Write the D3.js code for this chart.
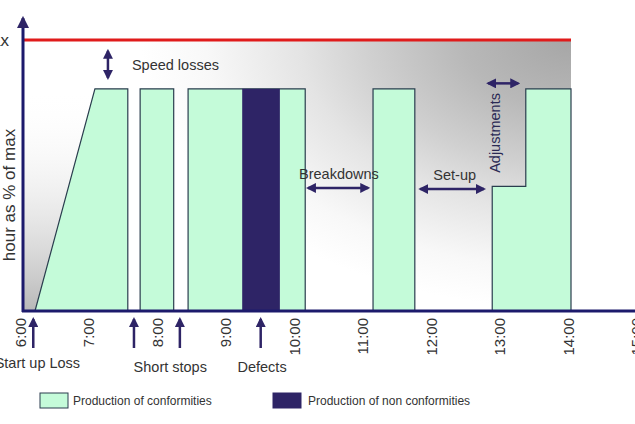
<!DOCTYPE html>
<html>
<head>
<meta charset="utf-8">
<script src="https://cdn.jsdelivr.net/npm/d3@7"></script>
<style>
  body { margin: 0; background: #fff; }
  svg { display: block; font-family: "Liberation Sans", Arial, sans-serif; }
</style>
</head>
<body>
<div id="chart"></div>
<script>
// ------------------------------------
// Production time loss chart
// ------------------------------------

// hours on the time axis
const hourTicks = [6, 7, 8, 9, 10, 11, 12, 13, 14, 15];
const shiftHours = [6, 14];
const maxLevel = 100;

// production runs: [hour, % of max] outlines
const conformRuns = [
  [[6.175, 0], [7.05, 82], [7.53, 82], [7.53, 0]],
  [[7.71, 0], [7.71, 82], [8.2, 82], [8.2, 0]],
  [[8.41, 0], [8.41, 82], [10.12, 82], [10.12, 0]],
  [[11.11, 0], [11.11, 82], [11.72, 82], [11.72, 0]],
  [[12.85, 0], [12.85, 46], [13.34, 46], [13.34, 82], [14, 82], [14, 0]]
];
// non conformities block [start, end, level]
const defectRuns = [[9.2, 9.75, 82]];

// losses marked below the time axis
const lossHours = [6.15, 7.62, 8.29, 9.47];
const lossLabels = [
  { text: "Start up Loss", hour: 6.21, row: 0 },
  { text: "Short stops", hour: 8.15, row: 1 },
  { text: "Defects", hour: 9.49, row: 1 }
];

// double arrows inside the plot: [h1, p1, h2, p2]
const lossArrows = [
  [7.24, 96, 7.24, 86],     // speed losses
  [10.16, 45.4, 11.04, 45.4], // breakdowns
  [11.8, 45, 12.73, 45],    // set-up
  [12.79, 84, 13.23, 84]    // adjustments
];
const lossNotes = [
  { text: "Speed losses", hour: 7.59, level: 88.9, rotate: false },
  { text: "Breakdowns", hour: 10.03, level: 48.7, rotate: false },
  { text: "Set-up", hour: 11.99, level: 48.3, rotate: false },
  { text: "Adjustments", hour: 12.89, level: 65.7, rotate: true }
];

const legendItems = [
  { text: "Production of conformities", kind: "ok" },
  { text: "Production of non conformities", kind: "nok" }
];

const width = 635, height = 424;
const green = "#c4fbd9", outline = "#2a3d4e", navy = "#1c1a6c", dark = "#2e2466", ink = "#333";

const svg = d3.select("#chart").append("svg")
    .attr("width", width)
    .attr("height", height);

const x = d3.scaleLinear().domain([6, 15]).range([23, 639.5]);
const y = d3.scaleLinear().domain([0, 100]).range([311, 40]);

const defs = svg.append("defs");

// background shading, darkest in top right corner, flattened ellipse
const cx = x(shiftHours[1]), cy = y(maxLevel);
const bg = defs.append("radialGradient")
    .attr("id", "bgGrad")
    .attr("gradientUnits", "userSpaceOnUse")
    .attr("cx", cx).attr("cy", cy).attr("r", 430)
    .attr("gradientTransform", `translate(${cx},${cy}) scale(1,0.625) translate(${-cx},${-cy})`);
[[0, "#a6a6a6"], [0.25, "#b8b8b8"], [0.47, "#d0d0d0"], [0.63, "#e4e4e4"], [0.85, "#f8f8f8"], [1, "#ffffff"]]
  .forEach(s => bg.append("stop").attr("offset", s[0]).attr("stop-color", s[1]));

const startGrad = defs.append("linearGradient")
    .attr("id", "startGrad").attr("x1", 0).attr("y1", 0).attr("x2", 0).attr("y2", 1);
startGrad.append("stop").attr("offset", 0).attr("stop-color", "#ffffff").attr("stop-opacity", 0);
startGrad.append("stop").attr("offset", 1).attr("stop-color", "#b8b8b8");

// arrow heads
const head = defs.append("marker")
    .attr("id", "head")
    .attr("viewBox", "0 0 10 10")
    .attr("refX", 8).attr("refY", 5)
    .attr("markerWidth", 4).attr("markerHeight", 4)
    .attr("orient", "auto-start-reverse");
head.append("path").attr("d", "M0,0 L10,5 L0,10 Z").attr("fill", dark);

svg.append("rect")
    .attr("x", x(shiftHours[0]))
    .attr("y", y(maxLevel))
    .attr("width", x(shiftHours[1]) - x(shiftHours[0]))
    .attr("height", y(0) - y(maxLevel))
    .attr("fill", "url(#bgGrad)");

// grey under the start up ramp
const ramp = conformRuns[0];
svg.append("path")
    .attr("d", d3.line().x(d => x(d[0])).y(d => y(d[1]))([[6, 0], ramp[0], ramp[1], [6, ramp[1][1]]]) + "Z")
    .attr("fill", "url(#startGrad)");

// max line
svg.append("line")
    .attr("x1", x(shiftHours[0])).attr("x2", x(shiftHours[1]))
    .attr("y1", y(maxLevel)).attr("y2", y(maxLevel))
    .attr("stroke", "#e01b1b").attr("stroke-width", 3);

svg.append("text")
    .attr("x", 9).attr("y", y(maxLevel) + 6)
    .attr("text-anchor", "end")
    .attr("font-size", 17).attr("fill", ink)
    .text("max");

// production runs
const line = d3.line().x(d => x(d[0])).y(d => y(d[1]));
svg.selectAll("path.run")
    .data(conformRuns)
    .enter()
    .append("path")
    .attr("class", "run")
    .attr("d", d => line(d) + "Z")
    .attr("fill", green)
    .attr("stroke", outline)
    .attr("stroke-width", 1.2);

svg.selectAll("rect.defect")
    .data(defectRuns)
    .enter()
    .append("rect")
    .attr("class", "defect")
    .attr("x", d => x(d[0]))
    .attr("y", d => y(d[2]))
    .attr("width", d => x(d[1]) - x(d[0]))
    .attr("height", d => y(0) - y(d[2]))
    .attr("fill", dark);

// axes
const xAxis = svg.append("g")
    .attr("transform", `translate(0,${y(0)})`)
    .call(d3.axisBottom(x).tickValues(hourTicks).tickFormat(h => h + ":00").tickSize(0));
xAxis.select(".domain").remove();
xAxis.selectAll("text")
    .attr("transform", "rotate(-90)")
    .attr("x", -7).attr("y", 0)
    .attr("dy", "0.15em")
    .style("text-anchor", "end")
    .attr("font-size", 15)
    .attr("font-family", "Liberation Sans, Arial, sans-serif")
    .attr("fill", ink);

svg.append("line")
    .attr("x1", x(6) - 1).attr("x2", width)
    .attr("y1", y(0)).attr("y2", y(0))
    .attr("stroke", navy).attr("stroke-width", 3);

svg.append("line")
    .attr("x1", x(6)).attr("x2", x(6))
    .attr("y1", y(0) + 1).attr("y2", y(108))
    .attr("stroke", navy).attr("stroke-width", 3)
    .attr("marker-end", "url(#head)");

svg.append("text")
    .attr("transform", `translate(15,${(127 + 263) / 2}) rotate(-90)`)
    .attr("text-anchor", "middle")
    .attr("font-size", 17).attr("fill", ink)
    .text("hour as % of max");

// double arrows and notes in the plot
svg.selectAll("line.loss")
    .data(lossArrows)
    .enter()
    .append("line")
    .attr("class", "loss")
    .attr("x1", d => x(d[0])).attr("y1", d => y(d[1]))
    .attr("x2", d => x(d[2])).attr("y2", d => y(d[3]))
    .attr("stroke", dark).attr("stroke-width", 2.5)
    .attr("marker-start", "url(#head)")
    .attr("marker-end", "url(#head)");

svg.selectAll("text.note")
    .data(lossNotes)
    .enter()
    .append("text")
    .attr("class", "note")
    .attr("transform", d => d.rotate
        ? `translate(${x(d.hour)},${y(d.level)}) rotate(-90)`
        : `translate(${x(d.hour)},${y(d.level)})`)
    .attr("text-anchor", d => d.rotate ? "middle" : "start")
    .attr("dy", d => d.rotate ? "0.35em" : 0)
    .attr("font-size", 14.5)
    .attr("fill", d => d.rotate ? "#2b2a55" : ink)
    .text(d => d.text);

// loss arrows below the axis
svg.selectAll("line.below")
    .data(lossHours)
    .enter()
    .append("line")
    .attr("class", "below")
    .attr("x1", d => x(d)).attr("x2", d => x(d))
    .attr("y1", y(0) + 37).attr("y2", y(0) + 8)
    .attr("stroke", dark).attr("stroke-width", 2.5)
    .attr("marker-end", "url(#head)");

svg.selectAll("text.below")
    .data(lossLabels)
    .enter()
    .append("text")
    .attr("class", "below")
    .attr("x", d => x(d.hour))
    .attr("y", d => y(0) + (d.row ? 61 : 57))
    .attr("text-anchor", "middle")
    .attr("font-size", 14.5)
    .attr("fill", ink)
    .text(d => d.text);

// legend
const legend = svg.selectAll("g.legend")
    .data(legendItems)
    .enter()
    .append("g")
    .attr("class", "legend")
    .attr("transform", (d, i) => `translate(${i ? 273 : 40},393)`);

legend.append("rect")
    .attr("width", 28).attr("height", 15)
    .attr("fill", d => d.kind === "ok" ? green : dark)
    .attr("stroke", d => d.kind === "ok" ? outline : dark)
    .attr("stroke-width", 1);

legend.append("text")
    .attr("x", d => d.kind === "ok" ? 33 : 35)
    .attr("y", 12)
    .attr("font-size", 12)
    .attr("fill", ink)
    .text(d => d.text);
</script>
</body>
</html>
